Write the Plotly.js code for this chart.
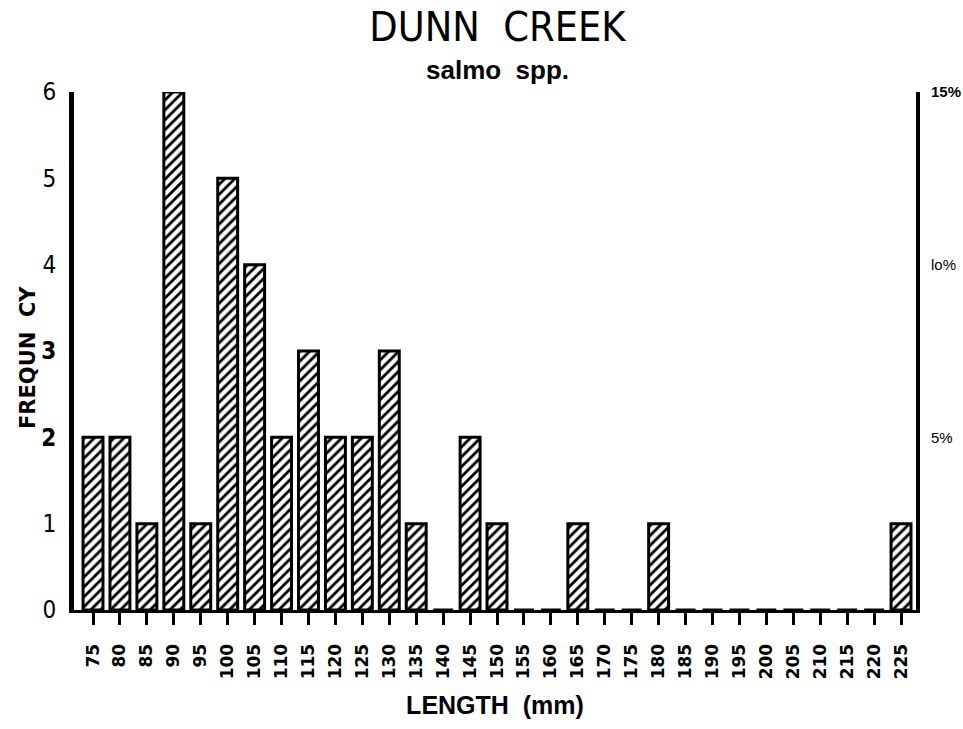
<!DOCTYPE html>
<html>
<head>
<meta charset="utf-8">
<script src="https://cdn.plot.ly/plotly-3.0.1.min.js"></script>
<style>html,body{margin:0;padding:0;background:#fff;}#chart{width:963px;height:729px;}</style>
</head>
<body>
<div id="chart"></div>
<script>
const lengths = [75,80,85,90,95,100,105,110,115,120,125,130,135,140,145,150,155,160,165,170,175,180,185,190,195,200,205,210,215,220,225];
const frequency = [2,2,1,6,1,5,4,2,3,2,2,3,1,0,2,1,0,0,1,0,0,1,0,0,0,0,0,0,0,0,1];
const leftTickVals = [0,1,2,3,4,5,6];
const leftTickText = ['0','1','<b>2</b>','<b>3</b>','4','5','6'];
const rightTickVals = [5,10,15];
const rightTickText = ['5%','lo%','<b>15%</b>'];

const narrow = '"Liberation Sans Narrow", "DejaVu Sans Condensed", "Arial Narrow", sans-serif';

const trace = {
  type: 'bar',
  x: lengths,
  y: frequency,
  width: 3.7,
  marker: {
    color: 'white',
    line: {color: 'black', width: 3},
    pattern: {shape: '/', fgcolor: 'black', bgcolor: 'white', size: 7, solidity: 0.4}
  },
  hoverinfo: 'x+y'
};
const ghost = {
  type: 'scatter', x: [lengths[0]], y: [0], yaxis: 'y2',
  mode: 'markers', marker: {opacity: 0}, hoverinfo: 'skip', showlegend: false
};

const layout = {
  width: 963, height: 729,
  margin: {l: 74, r: 47, t: 92, b: 119},
  paper_bgcolor: 'white', plot_bgcolor: 'white',
  showlegend: false,
  title: {
    text: 'DUNN  CREEK',
    font: {family: narrow, size: 41, color: 'black'},
    x: 0.5165, xanchor: 'center', y: 0.963, yanchor: 'middle'
  },
  annotations: [
    {text: '<b>salmo  spp.</b>', xref: 'paper', yref: 'paper', x: (497 - 74) / 842, xanchor: 'center',
     y: 1 + (92 - 70) / 518, yanchor: 'middle', showarrow: false,
     font: {family: 'Liberation Sans, Arial, sans-serif', size: 26, color: 'black'}},
    {text: '<b>FREQUN  CY</b>', xref: 'paper', yref: 'paper', x: -(74 - 28) / 842, xanchor: 'center',
     y: (610 - 358) / 518, yanchor: 'middle', textangle: -90, showarrow: false,
     font: {family: '"DejaVu Sans", Verdana, sans-serif', size: 21, color: 'black'}}
  ],
  xaxis: {
    range: [71.47, 227.78],
    tickmode: 'array', tickvals: lengths, ticktext: lengths.map(v => '<b>' + v + '</b>'),
    tickangle: -90,
    ticks: 'outside', ticklen: 12, tickwidth: 3, tickcolor: 'black',
    ticklabelstandoff: 12,
    tickfont: {family: '"DejaVu Sans", Arial, sans-serif', size: 17, color: 'black'},
    showline: true, linewidth: 3, linecolor: 'black',
    showgrid: false, zeroline: false,
    title: {text: '<b>LENGTH  (mm)</b>', standoff: 19,
            font: {family: 'Liberation Sans, Arial, sans-serif', size: 25, color: 'black'}}
  },
  yaxis: {
    range: [0, 6],
    tickmode: 'array', tickvals: leftTickVals, ticktext: leftTickText,
    ticks: 'outside', ticklen: 8, tickcolor: 'rgba(0,0,0,0)',
    tickfont: {family: narrow, size: 24, color: 'black'},
    showline: true, linewidth: 5, linecolor: 'black',
    showgrid: false, zeroline: false
  },
  yaxis2: {
    range: [0, 15], overlaying: 'y', side: 'right',
    tickmode: 'array', tickvals: rightTickVals, ticktext: rightTickText,
    ticks: 'outside', ticklen: 8, tickcolor: 'rgba(0,0,0,0)',
    tickfont: {family: 'Liberation Sans, Arial, sans-serif', size: 15, color: 'black'},
    showline: true, linewidth: 4, linecolor: 'black',
    showgrid: false, zeroline: false
  }
};

Plotly.newPlot('chart', [trace, ghost], layout, {displayModeBar: false, staticPlot: true});
</script>
</body>
</html>
